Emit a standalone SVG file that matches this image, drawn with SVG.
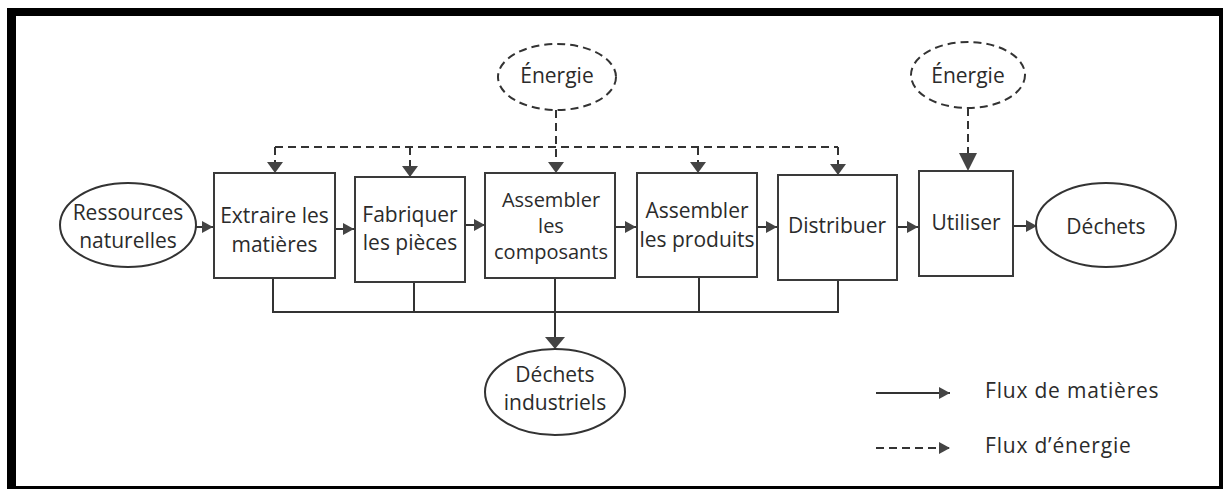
<svg xmlns="http://www.w3.org/2000/svg" width="1223" height="490" viewBox="0 0 1223 490">
<style>
.box{fill:#fff;stroke:#3a3a3a;stroke-width:2}
.oval{fill:#fff;stroke:#333;stroke-width:2}
.doval{fill:#fff;stroke:#333;stroke-width:2;stroke-dasharray:8 5}
.t{font-family:"Open Sans","Noto Sans","Liberation Sans",sans-serif;font-size:21px;fill:#2b2b2b;text-anchor:middle}
.tc{font-size:20px}
.lg{font-family:"Open Sans","Noto Sans","Liberation Sans",sans-serif;font-size:21px;fill:#2b2b2b;letter-spacing:0.8px}
.s{fill:none;stroke:#333;stroke-width:2}
.d{fill:none;stroke:#333;stroke-width:2;stroke-dasharray:8 5}
</style>
<defs>
<marker id="m" markerUnits="userSpaceOnUse" markerWidth="11" markerHeight="12" refX="11" refY="6" orient="auto"><path d="M0,0 L11,6 L0,12 z" fill="#444"/></marker>
<marker id="me" markerUnits="userSpaceOnUse" markerWidth="11" markerHeight="16" refX="11" refY="8" orient="auto"><path d="M0,0 L11,8 L0,16 z" fill="#444"/></marker>
<marker id="mb" markerUnits="userSpaceOnUse" markerWidth="18" markerHeight="18" refX="18" refY="9" orient="auto"><path d="M0,0 L18,9 L0,18 z" fill="#444"/></marker>
<marker id="md" markerUnits="userSpaceOnUse" markerWidth="12" markerHeight="20" refX="12" refY="10" orient="auto"><path d="M0,0 L12,10 L0,20 z" fill="#444"/></marker>
</defs>
<rect width="1223" height="490" fill="#fff"/>
<path d="M7,8 H1223 V489 H7 Z M16,16 V486 H1219 V16 Z" fill="#000" fill-rule="evenodd"/>

<g id="connectors">
<line class="s" x1="196" y1="227" x2="213" y2="227" marker-end="url(#m)"/>
<line class="s" x1="335" y1="229" x2="354" y2="229" marker-end="url(#m)"/>
<line class="s" x1="465" y1="225" x2="485" y2="225" marker-end="url(#m)"/>
<line class="s" x1="615" y1="227" x2="636" y2="227" marker-end="url(#m)"/>
<line class="s" x1="757" y1="227" x2="777" y2="227" marker-end="url(#m)"/>
<line class="s" x1="897" y1="227" x2="918" y2="227" marker-end="url(#m)"/>
<line class="s" x1="1013" y1="226" x2="1037" y2="226" marker-end="url(#m)"/>
<line class="d" x1="275" y1="147" x2="838" y2="147"/>
<line class="d" x1="275" y1="147" x2="275" y2="173" marker-end="url(#me)"/>
<line class="d" x1="410" y1="147" x2="410" y2="177" marker-end="url(#me)"/>
<line class="d" x1="556" y1="110" x2="556" y2="173" marker-end="url(#me)"/>
<line class="d" x1="698" y1="147" x2="698" y2="173" marker-end="url(#me)"/>
<line class="d" x1="838" y1="147" x2="838" y2="175" marker-end="url(#me)"/>
<line class="d" x1="968" y1="108" x2="968" y2="171" marker-end="url(#mb)"/>
<path class="s" d="M273,278 V312 H838 V280 M414,282 V312 M699,277 V312"/>
<line class="s" x1="555" y1="278" x2="555" y2="349" marker-end="url(#md)"/>
<line class="s" x1="876" y1="393" x2="950" y2="393" marker-end="url(#m)"/>
<line class="d" x1="876" y1="448" x2="950" y2="448" marker-end="url(#m)"/>
</g>

<g id="ressources">
<ellipse class="oval" cx="128" cy="225" rx="68" ry="42"/>
<text class="t" x="128" y="220">Ressources</text>
<text class="t" x="128" y="248">naturelles</text>
</g>
<g id="extraire">
<rect class="box" x="214" y="173" width="121" height="105"/>
<text class="t" x="274.5" y="223">Extraire les</text>
<text class="t" x="274.5" y="252">matières</text>
</g>
<g id="fabriquer">
<rect class="box" x="355" y="177" width="110" height="105"/>
<text class="t" x="410" y="222">Fabriquer</text>
<text class="t" x="410" y="250">les pièces</text>
</g>
<g id="composants">
<rect class="box" x="485" y="173" width="130" height="105"/>
<text class="t tc" x="551" y="207">Assembler</text>
<text class="t tc" x="551" y="233">les</text>
<text class="t tc" x="551" y="259">composants</text>
</g>
<g id="produits">
<rect class="box" x="637" y="173" width="120" height="104"/>
<text class="t" x="697" y="218">Assembler</text>
<text class="t" x="697" y="247">les produits</text>
</g>
<g id="distribuer">
<rect class="box" x="778" y="175" width="119" height="105"/>
<text class="t" x="837" y="233">Distribuer</text>
</g>
<g id="utiliser">
<rect class="box" x="919" y="171" width="94" height="105"/>
<text class="t" x="966" y="230">Utiliser</text>
</g>
<g id="dechets">
<ellipse class="oval" cx="1106" cy="225" rx="70" ry="42"/>
<text class="t" x="1106" y="234">Déchets</text>
</g>
<g id="energie1">
<ellipse class="doval" cx="557" cy="77" rx="59" ry="33"/>
<text class="t" x="557" y="83">Énergie</text>
</g>
<g id="energie2">
<ellipse class="doval" cx="968" cy="75" rx="57" ry="33"/>
<text class="t" x="968" y="83">Énergie</text>
</g>
<g id="dechets-industriels">
<ellipse class="oval" cx="555" cy="392" rx="70" ry="43"/>
<text class="t" x="555" y="382">Déchets</text>
<text class="t" x="555" y="410">industriels</text>
</g>
<g id="legende">
<text class="lg" x="985" y="398">Flux de matières</text>
<text class="lg" x="985" y="453">Flux d’énergie</text>
</g>
</svg>
